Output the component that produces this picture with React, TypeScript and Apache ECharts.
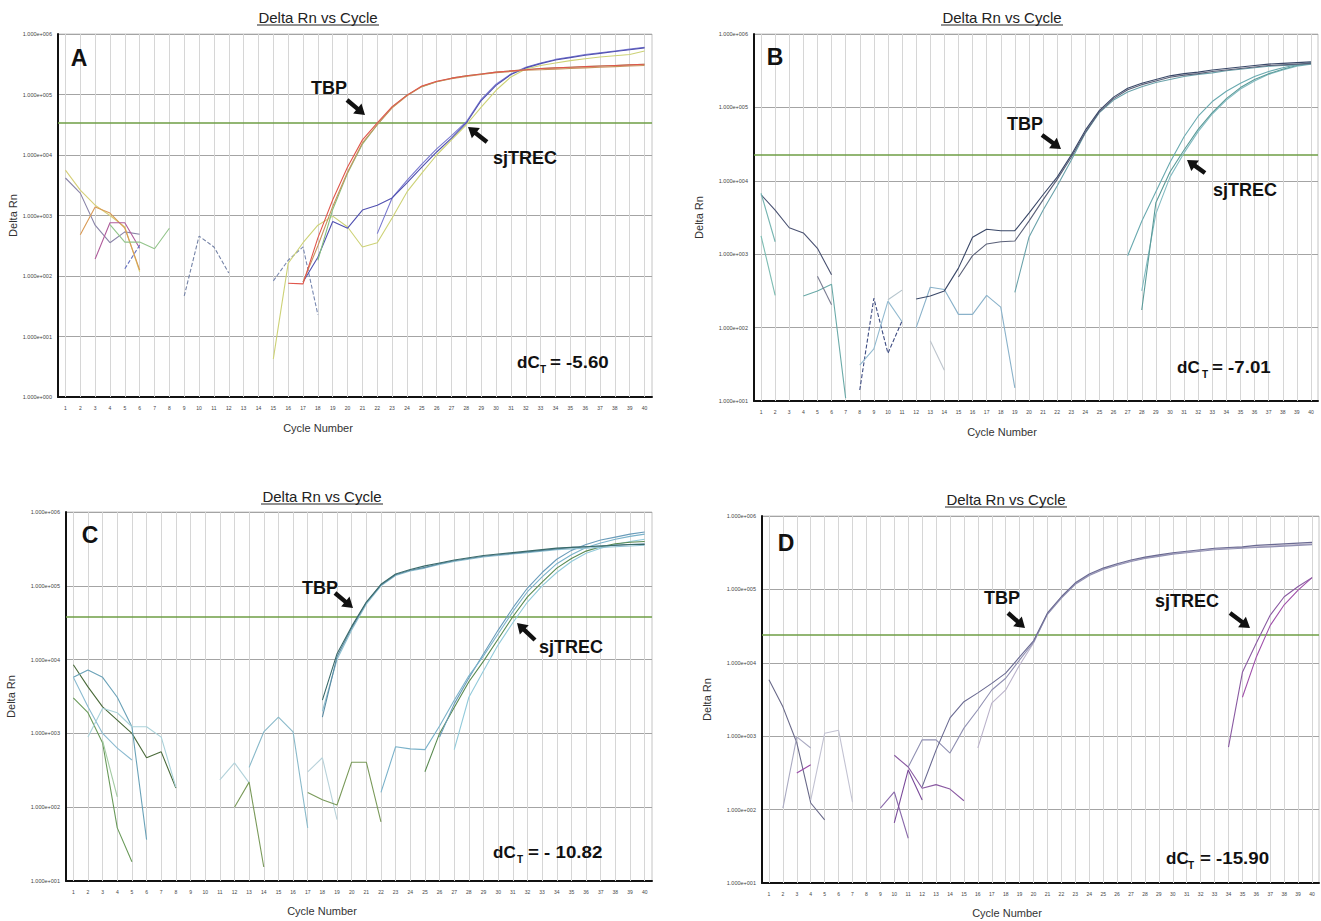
import React, { useEffect, useRef } from "react";
import * as echarts from "echarts";

// ---------- categories (cycle numbers) ----------
const cycles = ["1","2","3","4","5","6","7","8","9","10","11","12","13","14","15","16","17","18","19","20",
  "21","22","23","24","25","26","27","28","29","30","31","32","33","34","35","36","37","38","39","40"];

// ---------- values: log10(Delta Rn), each trace given as [startCycle, values...] ----------
// Panel A
const A_tbp_red = [16, 1.88, 1.87, 2.63, 3.26, 3.80, 4.25, 4.53, 4.80, 4.99, 5.14, 5.22, 5.27, 5.31, 5.34, 5.37, 5.39, 5.41, 5.43, 5.44, 5.45, 5.46, 5.47, 5.48, 5.49, 5.50];
const A_tbp_brown = [17, 1.9, 2.5, 3.15, 3.72, 4.2, 4.5, 4.78, 4.98, 5.13, 5.21, 5.26, 5.3, 5.33, 5.36, 5.38, 5.4, 5.41, 5.42, 5.43, 5.44, 5.45, 5.46, 5.47, 5.48];
const A_tbp_green = [18, 2.26, 3.1, 3.7, 4.18, 4.5, 4.79, 4.99, 5.13, 5.21, 5.27, 5.31, 5.34, 5.37, 5.39, 5.41, 5.43, 5.44, 5.45, 5.46, 5.47, 5.48, 5.49, 5.5];
const A_sj_blue = [17, 1.9, 2.31, 2.9, 2.79, 3.09, 3.17, 3.29, 3.54, 3.80, 4.05, 4.28, 4.53, 4.9, 5.15, 5.33, 5.44, 5.51, 5.57, 5.61, 5.65, 5.68, 5.71, 5.74, 5.77];
const A_sj_blue2 = [22, 2.7, 3.29, 3.58, 3.85, 4.1, 4.32, 4.55, 4.92, 5.17, 5.34, 5.45, 5.52, 5.58, 5.62, 5.66, 5.69, 5.72, 5.75, 5.78];
const A_sj_yellow = [15, 0.63, 2.21, 2.55, 2.84, 2.99, 2.81, 2.48, 2.55, 2.96, 3.39, 3.7, 4.0, 4.25, 4.5, 4.79, 5.07, 5.29, 5.42, 5.48, 5.52, 5.56, 5.59, 5.62, 5.64, 5.66, 5.72];
const A_bg_grey = [1, 3.62, 3.37, 2.84, 2.55, 2.73, 2.69];
const A_bg_yellow = [1, 3.75, 3.42, 3.17, 3.0, 2.81, 2.07];
const A_bg_orange = [2, 2.68, 3.14, 3.04, 2.79, 2.1];
const A_bg_magenta = [3, 2.28, 2.88, 2.88, 2.46];
const A_bg_blue = [5, 2.12, 2.51];
const A_bg_green = [4, 2.85, 2.56, 2.56, 2.45, 2.79];
const A_bg_slate = [9, 1.67, 2.66, 2.48, 2.05];
const A_bg_slate2 = [15, 1.92, 2.26, 2.48, 1.36];
const A_threshold = 4.53;

// Panel B
const B_tbp_dark1 = [12, 2.39, 2.43, 2.5, 2.81, 3.23, 3.34, 3.32, 3.32, 3.56, 3.81, 4.05, 4.35, 4.69, 4.96, 5.14, 5.26, 5.33, 5.38, 5.43, 5.46, 5.48, 5.51, 5.53, 5.55, 5.57, 5.59, 5.6, 5.61, 5.62];
const B_tbp_dark2 = [15, 2.69, 2.98, 3.14, 3.17, 3.18, 3.45, 3.74, 4.02, 4.32, 4.66, 4.94, 5.12, 5.24, 5.31, 5.36, 5.41, 5.44, 5.46, 5.49, 5.51, 5.53, 5.55, 5.57, 5.58, 5.59, 5.6];
const B_tbp_teal = [19, 2.48, 3.23, 3.6, 3.93, 4.28, 4.65, 4.93, 5.1, 5.21, 5.28, 5.34, 5.38, 5.42, 5.45, 5.47, 5.5, 5.52, 5.54, 5.56, 5.57, 5.58, 5.59];
const B_sj_a = [27, 2.98, 3.45, 3.85, 4.25, 4.6, 4.88, 5.08, 5.22, 5.33, 5.42, 5.49, 5.54, 5.58, 5.61];
const B_sj_b = [28, 2.24, 3.7, 4.12, 4.42, 4.7, 4.93, 5.12, 5.27, 5.38, 5.46, 5.52, 5.57, 5.6];
const B_sj_c = [28, 2.5, 3.55, 4.05, 4.38, 4.67, 4.91, 5.1, 5.25, 5.36, 5.45, 5.51, 5.56, 5.59];
const B_bg_dark = [1, 3.81, 3.6, 3.36, 3.29, 3.08, 2.72];
const B_bg_teal1 = [1, 3.83, 3.17];
const B_bg_teal2 = [1, 3.25, 2.44];
const B_bg_teal3 = [4, 2.43, 2.5, 2.59, 1.04];
const B_bg_grey = [5, 2.7, 2.31];
const B_bg_dash = [8, 1.15, 2.4, 1.65, 2.09];
const B_bg_light = [8, 1.49, 1.71, 2.36, 2.08];
const B_bg_pale = [10, 2.38, 2.51];
const B_bg_light2 = [12, 2.0, 2.55, 2.52, 2.18, 2.18, 2.44, 2.28, 1.18];
const B_bg_pale2 = [13, 1.82, 1.42];
const B_threshold = 4.35;

// Panel C
const C_tbp_1 = [18, 3.22, 4.04, 4.43, 4.77, 5.01, 5.15, 5.21, 5.25, 5.3, 5.34, 5.37, 5.4, 5.42, 5.44, 5.46, 5.48, 5.5, 5.52, 5.53, 5.54, 5.55, 5.56, 5.57];
const C_tbp_2 = [18, 3.45, 4.08, 4.45, 4.78, 5.02, 5.16, 5.22, 5.27, 5.31, 5.35, 5.38, 5.41, 5.43, 5.45, 5.47, 5.49, 5.51, 5.52, 5.53, 5.54, 5.55, 5.56, 5.56];
const C_tbp_3 = [18, 3.3, 4.0, 4.4, 4.75, 5.0, 5.14, 5.2, 5.24, 5.29, 5.33, 5.36, 5.39, 5.41, 5.43, 5.45, 5.47, 5.49, 5.5, 5.51, 5.52, 5.53, 5.54, 5.55];
const C_sj_1 = [22, 2.2, 2.82, 2.79, 2.78, 3.1, 3.45, 3.78, 4.05, 4.35, 4.65, 4.92, 5.12, 5.3, 5.42, 5.52, 5.58, 5.63, 5.67, 5.7];
const C_sj_2 = [25, 2.48, 3.0, 3.35, 3.7, 3.98, 4.28, 4.58, 4.85, 5.05, 5.24, 5.37, 5.47, 5.53, 5.57, 5.59, 5.6];
const C_sj_3 = [27, 2.78, 3.49, 3.85, 4.2, 4.5, 4.78, 5.0, 5.18, 5.33, 5.44, 5.51, 5.56, 5.6, 5.63];
const C_sj_4 = [26, 2.95, 3.4, 3.75, 4.08, 4.4, 4.7, 4.97, 5.18, 5.36, 5.48, 5.56, 5.62, 5.66, 5.7, 5.73];
const C_bg_olive = [1, 3.93, 3.63, 3.36, 3.18, 3.0, 2.67, 2.75, 2.26];
const C_bg_teal = [1, 3.76, 3.86, 3.76, 3.49, 3.09, 1.56];
const C_bg_light = [1, 3.76, 3.36, 3.0, 2.8, 2.64];
const C_bg_green = [1, 3.48, 3.28, 2.87, 1.72, 1.26];
const C_bg_cyan = [2, 2.95, 3.34, 3.28, 3.09, 3.09, 2.95, 2.27];
const C_bg_lgreen = [3, 2.9, 2.14];
const C_bg_pale = [11, 2.37, 2.6, 2.33];
const C_bg_teal2 = [13, 2.54, 3.02, 3.22, 3.02, 1.72];
const C_bg_olive2 = [12, 2.0, 2.34, 1.19];
const C_bg_pale2 = [17, 2.48, 2.67, 1.83];
const C_bg_olive3 = [17, 2.2, 2.1, 2.03, 2.61, 2.61, 1.8];
const C_threshold = 4.58;

// Panel D
const D_tbp_1 = [12, 2.31, 2.81, 3.25, 3.47, 3.59, 3.72, 3.86, 4.08, 4.3, 4.68, 4.9, 5.09, 5.21, 5.29, 5.35, 5.4, 5.44, 5.47, 5.5, 5.52, 5.54, 5.56, 5.57, 5.58, 5.6, 5.61, 5.62, 5.63, 5.64];
const D_tbp_2 = [11, 2.58, 2.95, 2.95, 2.77, 3.11, 3.36, 3.63, 3.79, 4.04, 4.28, 4.66, 4.88, 5.07, 5.19, 5.27, 5.33, 5.38, 5.42, 5.45, 5.48, 5.5, 5.52, 5.54, 5.55, 5.56, 5.57, 5.58, 5.59, 5.6, 5.61];
const D_tbp_3 = [16, 2.84, 3.45, 3.63, 3.97, 4.27, 4.67, 4.9, 5.08, 5.2, 5.28, 5.34, 5.39, 5.43, 5.46, 5.49, 5.51, 5.53, 5.55, 5.56, 5.57, 5.58, 5.59, 5.6, 5.61, 5.62];
const D_sj_a = [34, 2.85, 3.87, 4.27, 4.65, 4.9, 5.04, 5.16];
const D_sj_b = [35, 3.53, 4.08, 4.51, 4.79, 4.99, 5.16];
const D_bg_grey = [1, 3.77, 3.4, 2.91, 2.09, 1.86];
const D_bg_light = [2, 2.02, 2.99, 2.84];
const D_bg_magenta = [3, 2.5, 2.61];
const D_bg_pale = [4, 2.13, 3.04, 3.08, 2.1];
const D_bg_purple = [9, 2.02, 2.24, 1.61];
const D_bg_purple2 = [10, 1.82, 2.54, 2.13];
const D_bg_purple3 = [10, 2.74, 2.58, 2.29, 2.34, 2.28, 2.12];
const D_threshold = 4.38;

// ---------- layout & style ----------
const FONT = "Liberation Sans, Arial, Helvetica, sans-serif";
const grids = [
  { left: 58, top: 34, width: 594, height: 363 },
  { left: 754, top: 34, width: 564, height: 367 },
  { left: 66, top: 512, width: 586, height: 369 },
  { left: 762, top: 516, width: 557, height: 367 },
];
const yMinExp = [0, 1, 1, 1];
const yNameGap = [40, 50, 50, 50];
const thresholds = [A_threshold, B_threshold, C_threshold, D_threshold];

type Trace = { d: number[]; c: string; dash?: boolean };
const panels: Trace[][] = [
  [
    { d: A_bg_grey, c: "#8a84a8" }, { d: A_bg_yellow, c: "#d6cf78" }, { d: A_bg_orange, c: "#d99a55" },
    { d: A_bg_magenta, c: "#b05c9c" }, { d: A_bg_blue, c: "#6672c0", dash: true }, { d: A_bg_green, c: "#92c48a" },
    { d: A_bg_slate, c: "#7482a6", dash: true }, { d: A_bg_slate2, c: "#7888b0", dash: true },
    { d: A_sj_yellow, c: "#cdd276" }, { d: A_sj_blue2, c: "#7a7ad0" }, { d: A_sj_blue, c: "#5050b0" },
    { d: A_tbp_green, c: "#86c07e" }, { d: A_tbp_brown, c: "#c8925c" }, { d: A_tbp_red, c: "#e0564c" },
  ],
  [
    { d: B_bg_dark, c: "#4a5272" }, { d: B_bg_teal1, c: "#74b4b0" }, { d: B_bg_teal2, c: "#7cbcb2" },
    { d: B_bg_teal3, c: "#6aaaa8" }, { d: B_bg_grey, c: "#7a7c92" }, { d: B_bg_dash, c: "#3e4c82", dash: true },
    { d: B_bg_light, c: "#92bad0" }, { d: B_bg_pale, c: "#b4c4cc" }, { d: B_bg_light2, c: "#8ab2ca" },
    { d: B_bg_pale2, c: "#bcc4cc" },
    { d: B_sj_c, c: "#84bcc2" }, { d: B_sj_b, c: "#5a9a98" }, { d: B_sj_a, c: "#6aaab0" },
    { d: B_tbp_teal, c: "#6aa2aa" }, { d: B_tbp_dark2, c: "#5a6078" }, { d: B_tbp_dark1, c: "#3a4868" },
  ],
  [
    { d: C_bg_olive, c: "#4a6a3a" }, { d: C_bg_teal, c: "#6aa2b8" }, { d: C_bg_light, c: "#8abad0" },
    { d: C_bg_green, c: "#6a9a5a" }, { d: C_bg_cyan, c: "#aad2da" }, { d: C_bg_lgreen, c: "#a2caa2" },
    { d: C_bg_pale, c: "#b2d2da" }, { d: C_bg_teal2, c: "#8abaca" }, { d: C_bg_olive2, c: "#7a9a5a" },
    { d: C_bg_pale2, c: "#b8d2da" }, { d: C_bg_olive3, c: "#7a9a5a" },
    { d: C_sj_3, c: "#92cada" }, { d: C_sj_2, c: "#5a8a50" }, { d: C_sj_4, c: "#6a9cba" }, { d: C_sj_1, c: "#7ab2ca" },
    { d: C_tbp_3, c: "#92c2d2" }, { d: C_tbp_1, c: "#5a8aa2" }, { d: C_tbp_2, c: "#3a6a6a" },
  ],
  [
    { d: D_bg_grey, c: "#6a6a8a" }, { d: D_bg_light, c: "#aaaac2" }, { d: D_bg_magenta, c: "#9a4aa8" },
    { d: D_bg_pale, c: "#c2c2d2" }, { d: D_bg_purple, c: "#8a6aaa" }, { d: D_bg_purple2, c: "#7a4a9a" },
    { d: D_bg_purple3, c: "#8a5aa2" },
    { d: D_sj_b, c: "#a050aa" }, { d: D_sj_a, c: "#8a5aa2" },
    { d: D_tbp_3, c: "#bab2ca" }, { d: D_tbp_2, c: "#9090b2" }, { d: D_tbp_1, c: "#6a6a92" },
  ],
];

const toRow = (t: number[]) => {
  const row: (number | null)[] = cycles.map(() => null);
  const start = t[0];
  t.slice(1).forEach((v, i) => { row[start - 1 + i] = Math.pow(10, v); });
  return row;
};

const expLabel = (v: number) => {
  const e = Math.round(Math.log10(v));
  return "1.000e+" + String(e).padStart(3, "0");
};

// annotations
const letters = [
  { t: "A", x: 79, y: 58 }, { t: "B", x: 775, y: 57 }, { t: "C", x: 90, y: 535 }, { t: "D", x: 786, y: 543 },
];
const tbpLabels = [
  { x: 329, y: 88 }, { x: 1025, y: 124 }, { x: 320, y: 588 }, { x: 1002, y: 598 },
];
const sjLabels = [
  { x: 525, y: 158 }, { x: 1245, y: 190 }, { x: 571, y: 647 }, { x: 1187, y: 601 },
];
const arrows = [
  [347, 100, 365, 115], [487, 142, 468, 127],
  [1042, 135, 1061, 149], [1205, 173, 1187, 160],
  [335, 593, 353, 608], [535, 640, 517, 623],
  [1008, 613, 1025, 628], [1230, 613, 1250, 628],
];
const dctValues = ["= -5.60", "= -7.01", "= - 10.82", "= -15.90"];
const dctPos = [
  { x: 517, y: 362, t: 23, v: 33 }, { x: 1177, y: 367, t: 25, v: 35 },
  { x: 493, y: 852, t: 24, v: 35 }, { x: 1166, y: 858, t: 22, v: 34 },
];
const titlePos = [
  { x: 318, y: 17 }, { x: 1002, y: 17 }, { x: 322, y: 496 }, { x: 1006, y: 499 },
];
const xNamePos = [
  { x: 318, y: 428 }, { x: 1002, y: 432 }, { x: 322, y: 911 }, { x: 1007, y: 913 },
];

function arrowPoints(x1: number, y1: number, x2: number, y2: number) {
  const dx = x2 - x1, dy = y2 - y1, L = Math.hypot(dx, dy);
  const ux = dx / L, uy = dy / L, px = -uy, py = ux;
  const hl = 10, hw = 6.5, sw = 2.2;
  const bx = x2 - ux * hl, by = y2 - uy * hl;
  return [
    [x1 + px * sw, y1 + py * sw], [bx + px * sw, by + py * sw], [bx + px * hw, by + py * hw],
    [x2, y2], [bx - px * hw, by - py * hw], [bx - px * sw, by - py * sw], [x1 - px * sw, y1 - py * sw],
  ];
}

export default function App() {
  const ref = useRef<HTMLDivElement>(null);
  useEffect(() => {
    if (!ref.current) return;
    const chart = echarts.init(ref.current, undefined, { renderer: "svg" });

    const series: any[] = [];
    panels.forEach((traces, p) => {
      traces.forEach((tr, k) => {
        const s: any = {
          type: "line",
          xAxisIndex: p,
          yAxisIndex: p,
          data: toRow(tr.d),
          symbol: "none",
          connectNulls: false,
          silent: true,
          lineStyle: { color: tr.c, width: 1.1, type: tr.dash ? [4, 2] : "solid" },
          z: 3,
        };
        if (k === 0) {
          s.markLine = {
            silent: true,
            symbol: "none",
            label: { show: false },
            lineStyle: { color: "#6e9e44", width: 1.6, type: "solid" },
            data: [{ yAxis: Math.pow(10, thresholds[p]) }],
            z: 2,
          };
        }
        series.push(s);
      });
    });

    const graphic: any[] = [];
    letters.forEach((l) =>
      graphic.push({ type: "text", x: l.x, y: l.y, style: { text: l.t, font: `bold 23px ${FONT}`, fill: "#111", textAlign: "center", textVerticalAlign: "middle" }, z: 10 })
    );
    tbpLabels.forEach((l) =>
      graphic.push({ type: "text", x: l.x, y: l.y, style: { text: "TBP", font: `bold 18px ${FONT}`, fill: "#111", textAlign: "center", textVerticalAlign: "middle" }, z: 10 })
    );
    sjLabels.forEach((l) =>
      graphic.push({ type: "text", x: l.x, y: l.y, style: { text: "sjTREC", font: `bold 18px ${FONT}`, fill: "#111", textAlign: "center", textVerticalAlign: "middle" }, z: 10 })
    );
    arrows.forEach((a) =>
      graphic.push({ type: "polygon", shape: { points: arrowPoints(a[0], a[1], a[2], a[3]) }, style: { fill: "#111" }, z: 10 })
    );
    dctPos.forEach((d, i) => {
      graphic.push({ type: "text", x: d.x, y: d.y, style: { text: "dC", font: `bold 17px ${FONT}`, fill: "#111", textAlign: "left", textVerticalAlign: "middle" }, z: 10 });
      graphic.push({ type: "text", x: d.x + d.t, y: d.y + 7, style: { text: "T", font: `bold 10px ${FONT}`, fill: "#111", textAlign: "left", textVerticalAlign: "middle" }, z: 10 });
      graphic.push({ type: "text", x: d.x + d.v, y: d.y, scaleX: 1.1, style: { text: dctValues[i], font: `bold 17px ${FONT}`, fill: "#111", textAlign: "left", textVerticalAlign: "middle" }, z: 10 });
    });
    titlePos.forEach((t) => {
      graphic.push({ type: "text", x: t.x, y: t.y, style: { text: "Delta Rn vs Cycle", font: `15px ${FONT}`, fill: "#222", textAlign: "center", textVerticalAlign: "middle" }, z: 10 });
      graphic.push({ type: "line", shape: { x1: t.x - 61, y1: t.y + 8, x2: t.x + 61, y2: t.y + 8 }, style: { stroke: "#222", lineWidth: 1 }, z: 10 });
    });
    xNamePos.forEach((t) =>
      graphic.push({ type: "text", x: t.x, y: t.y, style: { text: "Cycle Number", font: `11px ${FONT}`, fill: "#333", textAlign: "center", textVerticalAlign: "middle" }, z: 10 })
    );

    chart.setOption({
      animation: false,
      backgroundColor: "#ffffff",
      textStyle: { fontFamily: FONT },
      grid: grids.map((g) => ({ ...g, show: true, borderColor: "#c4c4c4", borderWidth: 1, backgroundColor: "#ffffff", containLabel: false })),
      xAxis: grids.map((g, p) => ({
        type: "category",
        gridIndex: p,
        data: cycles,
        boundaryGap: true,
        axisLine: { show: true, lineStyle: { color: "#111", width: 2 } },
        axisTick: { show: true, alignWithLabel: true, inside: true, interval: 0, length: g.height, lineStyle: { color: "#d6d6d6", width: 1 } },
        axisLabel: { interval: 0, fontSize: 5, color: "#444", margin: 8 },
        splitLine: { show: false },
      })),
      yAxis: grids.map((g, p) => ({
        type: "log",
        logBase: 10,
        gridIndex: p,
        min: Math.pow(10, yMinExp[p]),
        max: 1e6,
        interval: 1,
        axisLine: { show: true, lineStyle: { color: "#111", width: 2 } },
        axisTick: { show: false },
        axisLabel: { fontSize: 5.5, color: "#444", margin: 6, formatter: expLabel },
        splitLine: { show: true, lineStyle: { color: "#a4a4a4", width: 1 } },
        name: "Delta Rn",
        nameLocation: "middle",
        nameGap: yNameGap[p],
        nameRotate: 90,
        nameTextStyle: { fontSize: 11, color: "#333" },
      })),
      series,
      graphic,
    });
    return () => chart.dispose();
  }, []);
  return <div ref={ref} style={{ position: "fixed", left: 0, top: 0, width: 1321, height: 921, background: "#fff" }} />;
}
